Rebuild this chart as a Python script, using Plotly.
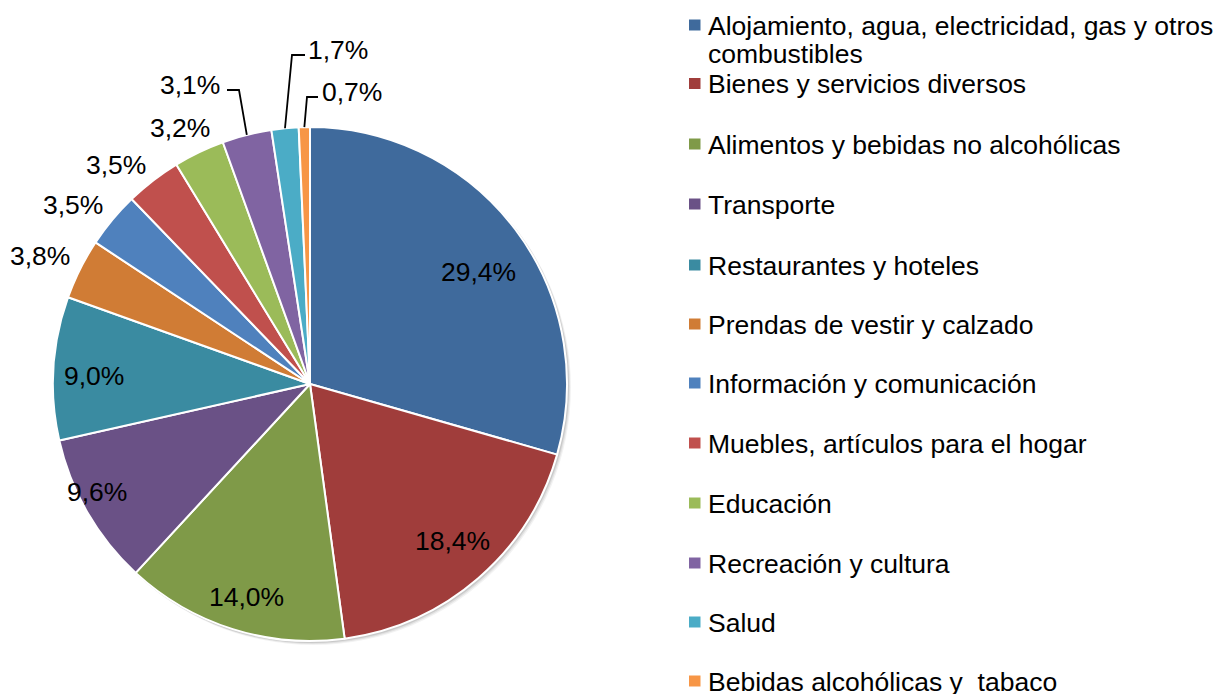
import math
import plotly.graph_objects as go

# ---- data ----
categories = [
    "Alojamiento, agua, electricidad, gas y otros combustibles",
    "Bienes y servicios diversos",
    "Alimentos y bebidas no alcohólicas",
    "Transporte",
    "Restaurantes y hoteles",
    "Prendas de vestir y calzado",
    "Información y comunicación",
    "Muebles, artículos para el hogar",
    "Educación",
    "Recreación y cultura",
    "Salud",
    "Bebidas alcohólicas y  tabaco",
]
values = [29.4, 18.4, 14.0, 9.6, 9.0, 3.8, 3.5, 3.5, 3.2, 3.1, 1.7, 0.7]
value_labels = ["29,4%", "18,4%", "14,0%", "9,6%", "9,0%", "3,8%", "3,5%",
                "3,5%", "3,2%", "3,1%", "1,7%", "0,7%"]
colors = ["#3F6A9C", "#A03D3B", "#7F9A48", "#6A5186", "#3A8BA1", "#D07C35",
          "#4F81BD", "#C0504D", "#9BBB59", "#8064A2", "#4BACC6", "#F79646"]

# ---- layout constants (pixels) ----
W, H = 1218, 694
CX, CY, R = 310, 384, 257
FONT = "Liberation Sans, Arial, sans-serif"
FS = 26.5

def px(x):
    return x / W

def py(y):
    return 1 - y / H

fig = go.Figure()

# soft shadow behind the pie
for off, col in [(4, "rgba(0,0,0,0.05)"), (3, "rgba(0,0,0,0.07)"), (2, "rgba(0,0,0,0.10)")]:
    fig.add_shape(type="circle", xref="paper", yref="paper", layer="below",
                  x0=px(CX - R + off - 1), x1=px(CX + R + off),
                  y0=py(CY + R + off), y1=py(CY - R + off - 1),
                  line=dict(width=0), fillcolor=col)

fig.add_trace(go.Pie(
    labels=categories, values=values, sort=False, direction="clockwise",
    rotation=0, textinfo="none", showlegend=False,
    marker=dict(colors=colors, line=dict(color="white", width=2)),
    domain=dict(x=[px(CX - R), px(CX + R)], y=[py(CY + R), py(CY - R)]),
    hovertemplate="%{label}: %{value}%<extra></extra>",
))

# slice mid-angles from the data
total = sum(values)
mids = []
acc = 0.0
for v in values:
    mids.append(2 * math.pi * (acc + v / 2) / total)
    acc += v

def polar(theta, rr):
    return CX + rr * math.sin(theta), CY - rr * math.cos(theta)

# label placement style: (radius fraction, angular nudge in degrees)
label_place = [(0.786, 3.4), (0.826, -1.4), (0.865, -0.8), (0.93, 3.1), (0.84, -1.4),
               (1.163, -1.2), (1.156, -2.6), (1.138, -3.8), (1.117, -1.3)]
annotations = []
for i, (fr, dth) in enumerate(label_place):
    x, y = polar(mids[i] + math.radians(dth), R * fr)
    annotations.append(dict(x=px(x), y=py(y), text=value_labels[i]))

# labels with leader lines: (label centre, elbow x, label side)
leader = {9: ((190, 85), 239, 227), 10: ((338, 50), 292, 305), 11: ((352, 92), 307, 318)}
for i, ((lx, ly), ex, sx) in leader.items():
    annotations.append(dict(x=px(lx), y=py(ly), text=value_labels[i]))
    tx, ty = polar(mids[i], R)
    yline = ly + 5
    fig.add_shape(type="path", xref="paper", yref="paper",
                  path=f"M {px(sx)} {py(yline)} L {px(ex)} {py(yline)} L {px(tx)} {py(ty)}",
                  line=dict(color="black", width=1.8))

for a in annotations:
    a.update(xref="paper", yref="paper", showarrow=False, xanchor="center",
             yanchor="middle", font=dict(family=FONT, size=FS, color="black"))
    fig.add_annotation(**a)

# ---- legend ----
leg_y = [25, 83.5, 144, 204, 265, 324, 383, 443, 503, 563, 622, 681]
leg_text = list(categories)
for i, (t, yy) in enumerate(zip(leg_text, leg_y)):
    fig.add_shape(type="rect", xref="paper", yref="paper",
                  x0=px(689), x1=px(700.5), y0=py(yy + 5.5), y1=py(yy - 5.5),
                  line=dict(width=0), fillcolor=colors[i])
    if i == 0:
        lines = ["Alojamiento, agua, electricidad, gas y otros", "combustibles"]
        ys = [yy, yy + 28]
    else:
        lines = [t]
        ys = [yy]
    for ln, y2 in zip(lines, ys):
        fig.add_annotation(x=px(706), y=py(y2 + 1), xref="paper", yref="paper",
                           text=ln, showarrow=False, xanchor="left", yanchor="middle",
                           font=dict(family=FONT, size=FS, color="black"))

fig.update_layout(
    width=W, height=H, margin=dict(l=0, r=0, t=0, b=0),
    paper_bgcolor="white", plot_bgcolor="white", showlegend=False,
)

fig.write_html("out.html", config={"displayModeBar": False},
               post_script="document.body.style.margin='0';document.body.style.overflow='hidden';")
